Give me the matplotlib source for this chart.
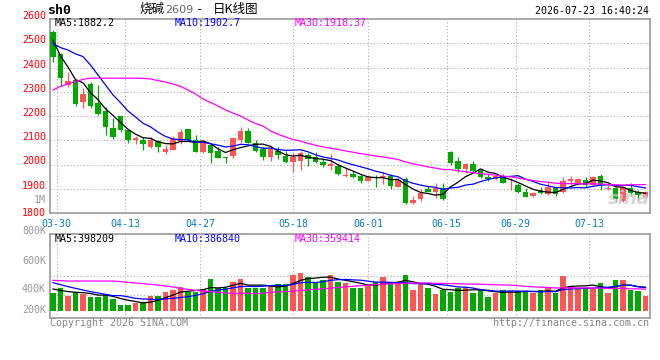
import numpy as np
import pandas as pd
import matplotlib
matplotlib.use('Agg')
import matplotlib.pyplot as plt

plt.rcParams['font.family'] = ['DejaVu Sans Mono', 'Noto Sans CJK SC']

# daily OHLC, 03-30 .. 07-23
opens = [2545, 2456, 2328, 2348, 2259, 2332, 2252, 2221, 2149, 2200,
         2141, 2101, 2101, 2073, 2097, 2052, 2060, 2094, 2146, 2101,
         2053, 2080, 2057, 2030, 2035, 2101, 2138, 2090, 2063, 2032,
         2057, 2035, 2012, 2014, 2039, 2032, 2012, 1994, 1995, 1953,
         1960, 1953, 1933, 1950, 1947, 1953, 1908, 1940, 1842, 1858,
         1899, 1888, 1902, 2053, 2014, 1983, 2002, 1977, 1950, 1939,
         1953, 1922, 1915, 1888, 1871, 1895, 1877, 1902, 1888, 1932,
         1925, 1936, 1915, 1953, 1899, 1904, 1849, 1904, 1885, 1865]
highs = [2555, 2458, 2380, 2350, 2314, 2341, 2328, 2238, 2190, 2202,
         2143, 2118, 2112, 2112, 2100, 2080, 2118, 2146, 2148, 2122,
         2101, 2083, 2072, 2030, 2110, 2156, 2150, 2101, 2073, 2073,
         2071, 2057, 2046, 2057, 2049, 2050, 2021, 2042, 2001, 1984,
         1973, 1961, 1957, 1957, 1970, 1961, 1943, 1947, 1870, 1898,
         1913, 1922, 1922, 2057, 2030, 2005, 2014, 1981, 1960, 1957,
         1960, 1943, 1922, 1904, 1888, 1906, 1927, 1908, 1947, 1954,
         1946, 1950, 1952, 1960, 1915, 1908, 1908, 1925, 1895, 1892]
lows = [2424, 2324, 2321, 2241, 2234, 2234, 2205, 2122, 2105, 2133,
        2090, 2083, 2061, 2067, 2053, 2042, 2060, 2085, 2098, 2053,
        2046, 2005, 2026, 2006, 2028, 2090, 2087, 2050, 2019, 2014,
        2023, 2007, 1970, 1977, 1995, 2007, 1991, 1977, 1958, 1950,
        1946, 1925, 1930, 1908, 1918, 1898, 1908, 1838, 1837, 1850,
        1886, 1861, 1855, 1998, 1970, 1964, 1964, 1943, 1932, 1937,
        1922, 1895, 1884, 1865, 1867, 1878, 1874, 1870, 1881, 1915,
        1915, 1908, 1908, 1895, 1895, 1847, 1847, 1870, 1854, 1862]
closes = [2445, 2355, 2344, 2250, 2291, 2241, 2210, 2156, 2115, 2144,
          2101, 2110, 2083, 2101, 2073, 2064, 2104, 2133, 2101, 2053,
          2094, 2049, 2026, 2026, 2108, 2138, 2087, 2057, 2030, 2063,
          2039, 2012, 2030, 2046, 2023, 2012, 1998, 2002, 1960, 1955,
          1950, 1932, 1947, 1946, 1953, 1911, 1936, 1840, 1854, 1884,
          1888, 1902, 1858, 2007, 1980, 2002, 1974, 1947, 1939, 1953,
          1925, 1925, 1888, 1867, 1884, 1884, 1908, 1878, 1933, 1940,
          1940, 1915, 1950, 1915, 1904, 1858, 1906, 1882, 1875, 1885]
# volume, thousand lots
volumes = [312, 385, 261, 317, 283, 244, 244, 272, 198, 102,
           102, 130, 159, 261, 261, 317, 357, 414, 329, 329,
           374, 544, 385, 385, 499, 544, 385, 385, 385, 431,
           453, 453, 612, 652, 584, 499, 527, 612, 499, 470,
           385, 397, 453, 487, 584, 453, 470, 612, 357, 453,
           385, 289, 357, 329, 385, 414, 312, 357, 244, 312,
           357, 340, 340, 317, 312, 357, 385, 312, 601, 431,
           397, 397, 374, 470, 312, 527, 527, 357, 346, 261]

ma5_head = [2513, 2447, 2402, 2350]
ma10_head = [2499, 2482, 2472, 2456, 2445, 2410, 2369, 2328, 2287]
ma30_head = [2307, 2322, 2332, 2342, 2351, 2356, 2356, 2356, 2356, 2356,
             2356, 2356, 2355, 2353, 2346, 2340, 2332, 2322, 2307, 2291,
             2270, 2256, 2241, 2225, 2212, 2200, 2184, 2169, 2159]
vma5_head = [374, 350, 330, 318]
vma10_head = [482, 448, 414, 385, 357, 329, 306, 283, 261]
vma30_head = [521, 516, 510, 510, 510, 510, 510, 510, 510, 499,
              487, 476, 465, 453, 442, 425, 408, 385, 368, 351,
              340, 329, 317, 306, 300, 300, 300, 300, 300]

date_labels = ['03-30', '04-13', '04-27', '05-18', '06-01', '06-15', '06-29', '07-13']
date_pos = [0.5, 9.6, 19.6, 32.0, 42.0, 52.5, 61.7, 71.5]
price_ticks = [1800, 1900, 2000, 2100, 2200, 2300, 2400, 2500, 2600]
vol_labels = ['1M', '800K', '600K', '400K', '200K']
vol_label_py = [200, 231, 260.5, 289.5, 310.3]


def moving_avg(vals, n, head):
    s = pd.Series(vals, dtype=float).rolling(n).mean()
    s.iloc[:len(head)] = head
    return s.values


W, H = 660, 360
RED = '#ff5555'
GREEN = '#00a800'
GRID = '#aaaaaa'
FRAME = '#999999'

fig = plt.figure(figsize=(W / 100, H / 100), dpi=100)
fig.patch.set_facecolor('white')


def fx(px):
    return px / W


def fy(py):
    return 1 - py / H


ax = fig.add_axes([fx(50), fy(213), fx(599.5), 194 / H])
axv = fig.add_axes([fx(50), fy(318), fx(599.5), 84 / H])

x = np.arange(len(closes))
o = np.array(opens)
c = np.array(closes)
up = c >= o
colors = np.where(up, RED, GREEN)

# candles
ax.vlines(x, lows, highs, colors=colors, linewidth=0.9, zorder=3)
body_lo = np.minimum(o, c)
body_h = np.maximum(np.abs(c - o), 3)
ax.bar(x, body_h, bottom=body_lo, width=0.76, color=colors, linewidth=0, zorder=4)

ax.plot(x, moving_avg(closes, 5, ma5_head), color='black', lw=0.9, zorder=5)
ax.plot(x, moving_avg(closes, 10, ma10_head), color='#0000ff', lw=0.9, zorder=5)
ax.plot(x, moving_avg(closes, 30, ma30_head), color='#ff00ff', lw=0.9, zorder=5)

# volume
axv.bar(x, volumes, width=0.76, color=colors, linewidth=0, zorder=3)
axv.plot(x, moving_avg(volumes, 5, vma5_head), color='black', lw=0.9, zorder=5)
axv.plot(x, moving_avg(volumes, 10, vma10_head), color='#0000ff', lw=0.9, zorder=5)
axv.plot(x, moving_avg(volumes, 30, vma30_head), color='#ff00ff', lw=0.9, zorder=5)

for a in (ax, axv):
    a.set_xlim(-0.4, 79.53)
    a.set_xticks([])
    a.set_yticks([])
    for s in a.spines.values():
        s.set_color(FRAME)
        s.set_linewidth(1.2)
    for p in date_pos:
        a.axvline(p, color=GRID, lw=0.8, ls=(0, (1, 2)), zorder=1)

ax.set_ylim(1800, 2600)
for p in price_ticks[1:-1]:
    ax.axhline(p, color=GRID, lw=0.8, ls=(0, (1, 2)), zorder=1)

axv.set_ylim(-119, 1309)
for p in [600, 272]:
    axv.axhline(p, color=GRID, lw=0.8, ls=(0, (1, 2)), zorder=1)

# price labels
for p in price_ticks:
    py = 213 - (p - 1800) * 194 / 800
    if p > 1800:
        py -= 3
    fig.text(fx(46), fy(py), str(p), color='#ff0000', fontsize=7.2,
             ha='right', va='center')
for lab, py in zip(vol_labels, vol_label_py):
    fig.text(fx(46), fy(py), lab, color='#999999', fontsize=7.2,
             ha='right', va='center')

# date labels
for lab, p in zip(date_labels, date_pos):
    ax.text(p, -0.03, lab, transform=ax.get_xaxis_transform(), color='#0a7ad0',
            fontsize=7.2, ha='center', va='top')

# header texts
fig.text(fx(48), fy(11), 'sh0', fontsize=9.5, fontweight='bold', ha='left', va='center')
fig.text(fx(140), fy(9.5), '烧碱', fontsize=9, family=['Noto Sans CJK SC'], ha='left', va='center')
fig.text(fx(165), fy(10), '2609', fontsize=8, color='#666666', family=['DejaVu Sans'],
         ha='left', va='center')
fig.text(fx(196), fy(10), '-', fontsize=9, ha='left', va='center')
fig.text(fx(213), fy(9.5), '日K线图', fontsize=9, family=['Noto Sans CJK SC'], ha='left', va='center')
fig.text(fx(649), fy(11.5), '2026-07-23 16:40:24', fontsize=7.2, ha='right', va='center')

fig.text(fx(55), fy(23.5), 'MA5:1882.2', fontsize=7.2, color='black', va='center')
fig.text(fx(175), fy(23.5), 'MA10:1902.7', fontsize=7.2, color='#0000ff', va='center')
fig.text(fx(295), fy(23.5), 'MA30:1918.37', fontsize=7.2, color='#ff00ff', va='center')
fig.text(fx(55), fy(238.5), 'MA5:398209', fontsize=7.2, color='black', va='center')
fig.text(fx(175), fy(238.5), 'MA10:386840', fontsize=7.2, color='#0000ff', va='center')
fig.text(fx(295), fy(238.5), 'MA30:359414', fontsize=7.2, color='#ff00ff', va='center')

fig.text(fx(50), fy(323.5), 'Copyright 2026 SINA.COM', fontsize=7.2, color='#888888', va='center')
fig.text(fx(649), fy(323.5), 'http://finance.sina.com.cn', fontsize=7.2, color='#888888',
         ha='right', va='center')
fig.text(fx(650), fy(199), 'sina', fontsize=13, fontweight='bold', style='italic',
         family=['DejaVu Sans'], color='#cccccc', alpha=0.8, ha='right', va='center', zorder=10)

fig.savefig('out.png', dpi=100)
